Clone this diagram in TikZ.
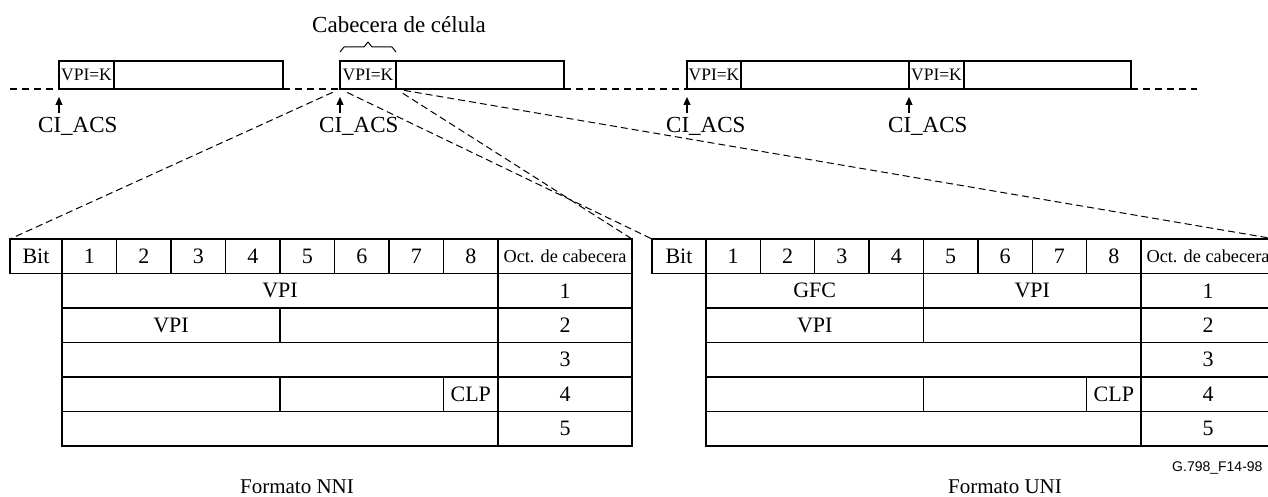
\documentclass[tikz,border=0pt]{standalone}
\usepackage{fontspec}
\setmainfont{Liberation Serif}
\newfontfamily\sansf{Liberation Sans}
\usetikzlibrary{arrows.meta}
\newcommand\octfont{\fontsize{18.3}{20}\selectfont}
% \cellat[style]{name}{x1}{y1}{x2}{y2}{text}
\newcommand\cellat[7][cell]{%
  \node[#1, minimum width={(#5)-(#3)}, minimum height={(#6)-(#4)}]
    (#2) at ({((#3)+(#5))/2},{((#4)+(#6))/2}) {#7};}
\newcommand\hdrtable[5]{%
  \cellat{#1bit}{#2}{239}{#3}{273.5}{Bit}
  \foreach \i in {1,...,8} {
    \cellat{#1b\i}{#3+(\i-1)*#4}{239}{#3+\i*#4}{273.5}{\i}
  }
  \cellat[cell, font=\octfont]{#1oct}{#3+8*#4}{239}{#5}{273.5}{Oct. de cabecera}
  \foreach \r/\ya/\yb in {1/273.5/308,2/308/342.5,3/342.5/377,4/377/411.5,5/411.5/446} {
    \cellat{#1o\r}{#3+8*#4}{\ya}{#5}{\yb}{\r}
  }
}
\begin{document}
\begin{tikzpicture}[x=1pt,y=-1pt,
  cell/.style={draw, line width=1.3pt, inner sep=0pt, outer sep=0pt, font=\fontsize{22}{24}\selectfont},
  hdr/.style={draw, line width=1.5pt, inner sep=0pt, outer sep=0pt, font=\fontsize{17.5}{19}\selectfont},
  zoomline/.style={line width=1pt, dash pattern=on 7pt off 4pt, shorten <=8pt},
  timeline/.style={line width=1.3pt, dash pattern=on 7pt off 5pt},
  marker/.style={line width=1.2pt, -{Triangle[length=8pt,width=7pt]}, shorten >=8pt},
  lbl/.style={inner sep=0pt, anchor=base west, font=\fontsize{23}{25}\selectfont},
]
\useasboundingbox (0,0) rectangle (1268,497);
\clip (0,0) rectangle (1268,497);

% cell stream
\cellat[hdr]{k1}{59}{61}{114}{89}{VPI=K}
\cellat[hdr]{p1}{114}{61}{283}{89}{}
\cellat[hdr]{k2}{340}{61}{396}{89}{VPI=K}
\cellat[hdr]{p2}{396}{61}{564}{89}{}
\cellat[hdr]{k3}{687}{61}{741}{89}{VPI=K}
\cellat[hdr]{p3}{741}{61}{909}{89}{}
\cellat[hdr]{k4}{909}{61}{964}{89}{VPI=K}
\cellat[hdr]{p4}{964}{61}{1131}{89}{}

\coordinate (t0) at (10,89);
\coordinate (t1) at (1197,89);
\draw[timeline] (t0) -- (k1.south west);
\draw[timeline] (p1.south east) -- (k2.south west);
\draw[timeline] (p2.south east) -- (k3.south west);
\draw[timeline] (p4.south east) -- (t1);

\foreach \n/\x in {1/59,2/340,3/687,4/909} {
  \node[lbl] (ci\n) at (\x-21,133) {CI\_ACS};
  \coordinate (a\n) at (\x,113);
  \draw[marker] (a\n) -- (k\n.south west);
}

% header brace
\node[lbl] (cab) at (312,33) {Cabecera de célula};
\draw[line width=1pt, line join=round] (340,52) -- (344,47) -- (364,47) -- (368,42) -- (372,47) -- (392,47) -- (396,52);

% NNI table
\hdrtable{n}{10}{62}{54.5}{632}
\cellat{n11}{62}{273.5}{498}{308}{VPI}
\cellat{n21}{62}{308}{280}{342.5}{VPI}
\cellat{n22}{280}{308}{498}{342.5}{}
\cellat{n31}{62}{342.5}{498}{377}{}
\cellat{n41}{62}{377}{280}{411.5}{}
\cellat{n42}{280}{377}{443.5}{411.5}{}
\cellat{n43}{443.5}{377}{498}{411.5}{CLP}
\cellat{n51}{62}{411.5}{498}{446}{}

% UNI table
\hdrtable{u}{652}{706}{54.375}{1275}
\cellat{u11}{706}{273.5}{923.5}{308}{GFC}
\cellat{u12}{923.5}{273.5}{1141}{308}{VPI}
\cellat{u21}{706}{308}{923.5}{342.5}{VPI}
\cellat{u22}{923.5}{308}{1141}{342.5}{}
\cellat{u31}{706}{342.5}{1141}{377}{}
\cellat{u41}{706}{377}{923.5}{411.5}{}
\cellat{u42}{923.5}{377}{1086.6}{411.5}{}
\cellat{u43}{1086.6}{377}{1141}{411.5}{CLP}
\cellat{u51}{706}{411.5}{1141}{446}{}

% zoom lines
\draw[zoomline] (k2.south west) -- (nbit.north west);
\draw[zoomline] (k2.south east) -- (noct.north east);
\draw[zoomline] (k2.south west) -- (ubit.north west);
\draw[zoomline] (k2.south east) -- (uoct.north east);

% captions
\node[font=\fontsize{21}{23}\selectfont, anchor=base, inner sep=0pt] (fnni) at (297,493) {Formato NNI};
\node[font=\fontsize{21}{23}\selectfont, anchor=base, inner sep=0pt] (funi) at (1005,493) {Formato UNI};
\node[font=\sansf\fontsize{14}{16}\selectfont, anchor=base west, inner sep=0pt] (gref) at (1172,471) {G.798\_F14-98};
\end{tikzpicture}
\end{document}
